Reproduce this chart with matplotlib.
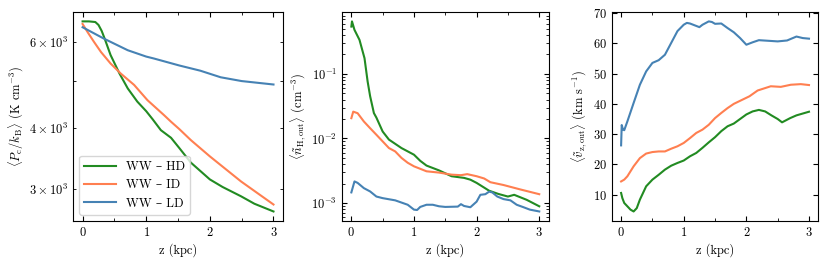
import matplotlib
matplotlib.use("Agg")
import matplotlib.pyplot as plt
from matplotlib.ticker import MultipleLocator

plt.rcParams['font.family'] = ['cmr10', 'DejaVu Serif']
plt.rcParams['mathtext.fontset'] = 'cm'
plt.rcParams['axes.formatter.use_mathtext'] = True
plt.rcParams['font.size'] = 9

labels = ['WW – HD', 'WW – ID', 'WW – LD']
colors = ['forestgreen', 'coral', 'steelblue']

# panel 1: pressure
z_p_hd = [0, 0.1, 0.2, 0.25, 0.3, 0.35, 0.44, 0.58, 0.71, 0.86, 1.0, 1.1, 1.23, 1.39, 1.52, 1.7, 2.0, 2.2, 2.49, 2.7, 3.0]
p_hd = [6610, 6610, 6590, 6500, 6320, 6080, 5640, 5170, 4820, 4530, 4330, 4170, 3960, 3820, 3640, 3400, 3140, 3030, 2900, 2800, 2700]
z_p_id = [0, 0.08, 0.18, 0.29, 0.44, 0.6, 0.81, 1.02, 1.28, 1.39, 1.52, 1.7, 2.0, 2.49, 3.0]
p_id = [6530, 6280, 6000, 5720, 5420, 5170, 4900, 4560, 4250, 4120, 3980, 3780, 3500, 3110, 2790]
z_p_ld = [0, 0.34, 0.71, 1.0, 1.12, 1.52, 1.85, 2.17, 2.5, 3.0]
p_ld = [6430, 6090, 5770, 5600, 5550, 5370, 5240, 5080, 4990, 4910]

# panel 2: outflow density
z_n_hd = [0, 0.01, 0.05, 0.13, 0.21, 0.26, 0.3, 0.36, 0.4, 0.5, 0.6, 0.8, 1.0, 1.1, 1.2, 1.4, 1.6, 1.8, 1.9, 2.0, 2.2, 2.35, 2.5, 2.6, 2.8, 3.0]
n_hd = [0.54, 0.65, 0.48, 0.336, 0.175, 0.076, 0.045, 0.0247, 0.021, 0.0128, 0.0096, 0.0071, 0.0056, 0.0045, 0.0038, 0.0032, 0.0026, 0.00245, 0.0023, 0.00205, 0.00155, 0.00138, 0.00126, 0.00134, 0.00112, 0.00089]
z_n_id = [0, 0.03, 0.1, 0.2, 0.3, 0.4, 0.5, 0.6, 0.7, 0.8, 0.9, 1.0, 1.2, 1.4, 1.6, 1.75, 1.85, 2.0, 2.12, 2.22, 2.43, 2.69, 3.0]
n_id = [0.0206, 0.026, 0.0246, 0.0183, 0.0144, 0.0114, 0.0090, 0.0071, 0.0063, 0.0050, 0.0042, 0.0037, 0.0031, 0.00296, 0.00275, 0.0027, 0.0028, 0.0026, 0.0024, 0.0021, 0.0019, 0.00163, 0.00137]
z_n_ld = [0, 0.05, 0.1, 0.2, 0.3, 0.4, 0.5, 0.7, 0.9, 1.0, 1.05, 1.1, 1.2, 1.3, 1.4, 1.5, 1.7, 1.75, 1.8, 1.9, 2.0, 2.06, 2.14, 2.2, 2.25, 2.33, 2.43, 2.54, 2.64, 2.75, 2.85, 3.0]
n_ld = [0.00146, 0.00216, 0.00205, 0.0017, 0.00151, 0.00126, 0.00119, 0.0011, 0.00094, 0.00079, 0.00078, 0.00087, 0.00094, 0.00094, 0.00089, 0.00087, 0.00088, 0.00096, 0.0009, 0.00086, 0.00105, 0.00134, 0.00137, 0.0015, 0.00146, 0.00126, 0.00115, 0.0011, 0.00094, 0.00086, 0.00079, 0.00074]

# panel 3: outflow velocity
z_v_hd = [0, 0.02, 0.05, 0.1, 0.15, 0.2, 0.25, 0.3, 0.4, 0.5, 0.6, 0.7, 0.8, 0.9, 1.0, 1.1, 1.2, 1.3, 1.4, 1.5, 1.6, 1.7, 1.8, 1.9, 2.0, 2.1, 2.2, 2.3, 2.4, 2.5, 2.57, 2.7, 2.8, 2.9, 3.0]
v_hd = [10.6, 8.9, 7.3, 6.2, 5.1, 4.5, 5.6, 8.4, 12.8, 15.0, 16.6, 18.3, 19.6, 20.5, 21.3, 22.7, 23.8, 25.5, 27.3, 29.0, 31.0, 32.6, 33.5, 35.0, 36.5, 37.5, 38.0, 37.5, 36.2, 35.0, 33.9, 35.3, 36.2, 36.8, 37.4]
z_v_id = [0, 0.05, 0.1, 0.2, 0.3, 0.4, 0.5, 0.6, 0.7, 0.8, 0.9, 1.0, 1.1, 1.2, 1.3, 1.4, 1.5, 1.6, 1.7, 1.8, 1.92, 2.05, 2.18, 2.3, 2.39, 2.55, 2.71, 2.87, 3.0]
v_id = [14.4, 15.0, 16.1, 19.4, 22.1, 23.6, 24.1, 24.3, 24.3, 25.2, 26.0, 27.1, 28.7, 30.4, 31.5, 33.1, 35.3, 37.0, 38.6, 40.0, 41.2, 42.5, 44.4, 45.2, 45.8, 45.6, 46.3, 46.5, 46.2]
z_v_ld = [0, 0.01, 0.03, 0.05, 0.1, 0.2, 0.3, 0.4, 0.5, 0.6, 0.7, 0.8, 0.9, 1.0, 1.05, 1.1, 1.25, 1.3, 1.4, 1.45, 1.5, 1.6, 1.7, 1.8, 1.9, 2.0, 2.1, 2.2, 2.35, 2.5, 2.65, 2.8, 2.9, 3.0]
v_ld = [26.3, 33.0, 31.5, 31.3, 34.2, 40.3, 46.3, 50.7, 53.5, 54.4, 56.2, 60.1, 64.0, 66.1, 66.7, 66.5, 65.3, 66.1, 67.2, 67.0, 66.4, 66.5, 65.0, 63.6, 61.7, 59.5, 60.3, 61.0, 60.8, 60.6, 60.9, 62.2, 61.7, 61.5]

fig = plt.figure(figsize=(8.3, 2.64), dpi=100)
ax1 = fig.add_axes([0.088, 0.163, 0.253, 0.792])
ax2 = fig.add_axes([0.412, 0.163, 0.249, 0.792])
ax3 = fig.add_axes([0.737, 0.163, 0.249, 0.792])

panels = [
    (ax1, [(z_p_hd, p_hd), (z_p_id, p_id), (z_p_ld, p_ld)]),
    (ax2, [(z_n_hd, n_hd), (z_n_id, n_id), (z_n_ld, n_ld)]),
    (ax3, [(z_v_hd, v_hd), (z_v_id, v_id), (z_v_ld, v_ld)]),
]
for ax, series in panels:
    for (z, y), c, lab in zip(series, colors, labels):
        ax.plot(z, y, color=c, lw=1.5, label=lab)
    ax.set_xlabel('z (kpc)', labelpad=3)
    ax.xaxis.set_major_locator(MultipleLocator(1))
    ax.xaxis.set_minor_locator(MultipleLocator(0.5))
    ax.tick_params(which='both', direction='in', top=True, right=True)
    ax.tick_params(which='major', length=3.5)
    ax.tick_params(which='minor', length=2)

ax1.set_yscale('log')
ax2.set_yscale('log')

ax1.set_ylabel(r'$\langle P_{\rm c}/k_{\rm B}\rangle$ (K cm$^{-3}$)', labelpad=2)
ax2.set_ylabel(r'$\langle \tilde{n}_{\rm H,out}\rangle$ (cm$^{-3}$)', labelpad=2)
ax3.set_ylabel(r'$\langle \tilde{v}_{\rm z,out}\rangle$ (km s$^{-1}$)', labelpad=2)

ax1.legend(loc='lower left', fontsize=9, handlelength=2.5)

fig.savefig('out.png', dpi=100)
